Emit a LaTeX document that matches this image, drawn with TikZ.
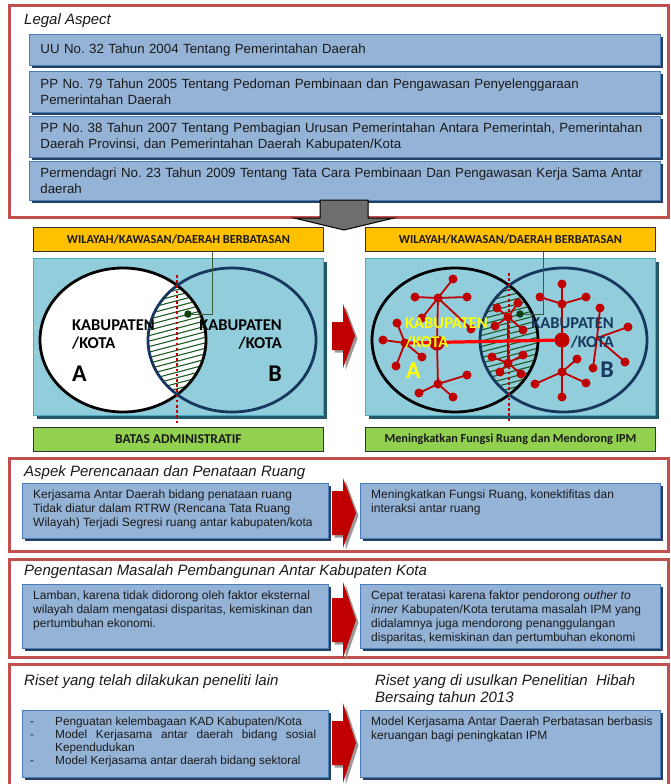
\documentclass[tikz,border=0pt]{standalone}
\usepackage{fontspec}
\setmainfont{Liberation Sans}
\newfontfamily\calibfont{Carlito}
\usetikzlibrary{shadows}

\definecolor{frameRed}{HTML}{C0504D}
\definecolor{boxFill}{HTML}{95B3D7}
\definecolor{boxLine}{HTML}{4A7EBB}
\definecolor{boxShadow}{HTML}{243F60}
\definecolor{panelFill}{HTML}{92CDDC}
\definecolor{panelLine}{HTML}{4BACC6}
\definecolor{panelShadow}{HTML}{215968}
\definecolor{labYellow}{HTML}{FFC000}
\definecolor{labGreen}{HTML}{92D050}
\definecolor{netRed}{HTML}{C00000}
\definecolor{linkRed}{HTML}{FF0000}
\definecolor{navy}{HTML}{17375E}
\definecolor{hatchGreen}{HTML}{1E5B23}
\definecolor{dotGreen}{HTML}{0F400F}
\definecolor{leaderGreen}{HTML}{3A5F3A}
\definecolor{arrowGray}{HTML}{6E6E6E}
\definecolor{arrowShade}{HTML}{9A9A9A}
\definecolor{inkText}{HTML}{1A1A1A}
\definecolor{kabYellow}{HTML}{FFFF00}

\tikzset{
  sectionframe/.style={draw=frameRed, line width=3pt},
  heading/.style={anchor=west, inner sep=0pt, font=\fontsize{15}{17}\selectfont\itshape, text=inkText},
  lawbox/.style={draw=boxLine, line width=0.9pt, fill=boxFill, anchor=north west,
    align=left, text width=609pt, inner xsep=11pt, inner ysep=0pt,
    font=\fontsize{13.3}{16}\selectfont, text=inkText,
    drop shadow={shadow xshift=2.5pt, shadow yshift=-2.5pt, fill=boxShadow, opacity=1}},
  casebox/.style={draw=boxLine, line width=0.9pt, fill=boxFill, anchor=north west, inner sep=0pt,
    drop shadow={shadow xshift=2.5pt, shadow yshift=-2.5pt, fill=boxShadow, opacity=1}},
  casetext/.style={anchor=north west, inner sep=0pt, align=left,
    font=\fontsize{12}{14}\selectfont, text=inkText},
  labelbar/.style={draw=black!80, line width=0.8pt, anchor=north west, minimum width=290pt,
    minimum height=24pt, inner sep=0pt, font=\calibfont\bfseries\fontsize{12.3}{14}\selectfont, text=inkText},
  panel/.style={draw=panelLine, line width=1pt, fill=panelFill, anchor=north west, minimum width=290pt,
    minimum height=157pt, inner sep=0pt,
    drop shadow={shadow xshift=3pt, shadow yshift=-3pt, fill=panelShadow, opacity=1}},
  kab/.style={inner sep=0pt, font=\calibfont\bfseries\fontsize{16.5}{18}\selectfont},
  bigletter/.style={inner sep=0pt, font=\calibfont\bfseries\fontsize{24}{26}\selectfont},
  hatch/.style={draw=hatchGreen, line width=1.1pt},
  cutline/.style={draw=netRed, line width=2.6pt, dash pattern=on 2.6pt off 2.6pt},
  gdot/.style={circle, fill=dotGreen, inner sep=0pt, minimum size=7.5pt},
  leader/.style={draw=leaderGreen, line width=1pt},
  leaf/.style={circle, fill=netRed, inner sep=0pt, minimum size=9pt},
  core/.style={circle, fill=netRed, inner sep=0pt, minimum size=15pt},
  spoke/.style={draw=netRed, line width=1.8pt},
  trunk/.style={draw=linkRed, line width=3.2pt},
}

% red block arrow pointing right, with a grey drop shade
% #1 shaft left, #2 head base, #3 tip x, #4 centre y, #5 half shaft height, #6 half head height
\newcommand\redpointer[6]{%
  \fill[arrowShade, shift={(2.5,2.5)}] (#1,{#4-#5}) -- (#2,{#4-#5}) -- (#2,{#4-#6}) -- (#3,#4)
     -- (#2,{#4+#6}) -- (#2,{#4+#5}) -- (#1,{#4+#5}) -- cycle;
  \fill[netRed] (#1,{#4-#5}) -- (#2,{#4-#5}) -- (#2,{#4-#6}) -- (#3,#4)
     -- (#2,{#4+#6}) -- (#2,{#4+#5}) -- (#1,{#4+#5}) -- cycle;}

\begin{document}
\frenchspacing
\hyphenpenalty=10000
\exhyphenpenalty=10000
\begin{tikzpicture}[x=1pt,y=-1pt]
\path[use as bounding box] (0,0) rectangle (671,784);
\clip (0,0) rectangle (671,784);
\fill[white] (0,0) rectangle (671,784);

%% ---------- Legal aspect ----------
\draw[sectionframe] (9.5,5.5) rectangle (668,217);
\node[heading] (legalHead) at (24,21) {Legal Aspect};
\node[lawbox, minimum height=31pt] (law1) at (29,34) {\mbox{UU No. 32 Tahun 2004 Tentang Pemerintahan Daerah}};
\node[lawbox, minimum height=41pt] (law2) at (29,71) {\mbox{PP No. 79 Tahun 2005 Tentang Pedoman Pembinaan dan Pengawasan Penyelenggaraan}\\\mbox{Pemerintahan Daerah}};
\node[lawbox, minimum height=41pt] (law3) at (29,116) {\mbox{PP No. 38 Tahun 2007 Tentang Pembagian Urusan Pemerintahan Antara Pemerintah, Pemerintahan}\\\mbox{Daerah Provinsi, dan Pemerintahan Daerah Kabupaten/Kota}};
\node[lawbox, minimum height=39pt] (law4) at (29,161) {\mbox{Permendagri No. 23 Tahun 2009 Tentang Tata Cara Pembinaan Dan Pengawasan Kerja Sama Antar}\\\mbox{daerah}};

% grey arrow down into the diagrams
\draw[fill=arrowGray, draw=black, line width=1pt, line join=miter]
  (320,200) -- (368,200) -- (368,218) -- (394,218) -- (344,230) -- (294,218) -- (320,218) -- cycle;

%% ---------- Bars and panels ----------
\node[labelbar, fill=labYellow] (areaL) at (33,227) {WILAYAH/KAWASAN/DAERAH BERBATASAN};
\node[labelbar, fill=labYellow] (areaR) at (365,227) {WILAYAH/KAWASAN/DAERAH BERBATASAN};
\node[panel] (panelL) at (33,258) {};
\node[panel] (panelR) at (365,258) {};
\node[labelbar, fill=labGreen, font=\calibfont\bfseries\fontsize{13.5}{15}\selectfont] (adminL) at (33,427) {BATAS ADMINISTRATIF};
\node[labelbar, fill=labGreen] (goalR) at (365,427) {Meningkatkan Fungsi Ruang dan Mendorong IPM};

%% ---------- Left Venn: two regencies ----------
\fill[white] (123,340) ellipse [x radius=83pt, y radius=72pt];
\begin{scope}
  \clip (123,340) ellipse [x radius=83pt, y radius=72pt];
  \clip (232,340) ellipse [x radius=84pt, y radius=72pt];
  \foreach \k in {0,...,36} \draw[hatch] (140,{250+5.5*\k}) -- (216,{230+5.5*\k});
\end{scope}
\draw[line width=2.8pt] (123,340) ellipse [x radius=83pt, y radius=72pt];
\draw[navy, line width=2.8pt] (232,340) ellipse [x radius=84pt, y radius=72pt];
\draw[cutline] (177,275) -- (177,425);
\node[gdot] (spotL) at (188,314) {};
\draw[leader] (spotL.east) -| (212,0 |- areaL.south);

\node[kab, anchor=west] (kabA1) at (72,325) {KABUPATEN};
\node[kab, anchor=west] (kabA2) at (72,343) {/KOTA};
\node[bigletter, anchor=west] (kabA3) at (72,374) {A};
\node[kab, anchor=east] (kabB1) at (282,325) {KABUPATEN};
\node[kab, anchor=east] (kabB2) at (282,343) {/KOTA};
\node[bigletter, anchor=east] (kabB3) at (282,374) {B};

\redpointer{332}{343}{355}{336}{14}{32}

%% ---------- Right Venn: linked growth centres ----------
\begin{scope}
  \clip (455,340) ellipse [x radius=83pt, y radius=72pt];
  \clip (563.5,340) ellipse [x radius=83.5pt, y radius=72pt];
  \foreach \k in {0,...,36} \draw[hatch] (472,{250+5.5*\k}) -- (548,{230+5.5*\k});
\end{scope}
\draw[line width=2.8pt] (455,340) ellipse [x radius=83pt, y radius=72pt];
\draw[navy, line width=2.8pt] (563.5,340) ellipse [x radius=83.5pt, y radius=72pt];
\draw[cutline] (509,273) -- (509,423);

% network positions
\coordinate (aT) at (438,298);
\coordinate (aT1) at (453,279); \coordinate (aT2) at (415,297); \coordinate (aT3) at (467,297);
\coordinate (aT4) at (422,318); \coordinate (aT5) at (471,329);
\coordinate (aC) at (437,343);
\coordinate (aL) at (405,343);
\coordinate (aL1) at (397,323); \coordinate (aL2) at (383,340); \coordinate (aL3) at (396,366); \coordinate (aL4) at (422,357);
\coordinate (aB) at (438,384);
\coordinate (aB1) at (419,393); \coordinate (aB2) at (453,397); \coordinate (aB3) at (467,375);
\coordinate (mT) at (508,317);
\coordinate (mT1) at (497,308); \coordinate (mT2) at (518,303); \coordinate (mT3) at (495,326); \coordinate (mT4) at (523,330);
\coordinate (mB) at (508,363);
\coordinate (mB1) at (492,357); \coordinate (mB2) at (523,355); \coordinate (mB3) at (500,372); \coordinate (mB4) at (521,374);
\coordinate (bT) at (562,304);
\coordinate (bT1) at (562,284); \coordinate (bT2) at (540,297); \coordinate (bT3) at (586,297);
\coordinate (bC) at (562,340);
\coordinate (bB) at (562,372);
\coordinate (bB1) at (535,384); \coordinate (bB2) at (586,383); \coordinate (bB3) at (577,359); \coordinate (bB4) at (562,397);
\coordinate (bR) at (597,338);
\coordinate (bR1) at (600,308); \coordinate (bR2) at (628,327); \coordinate (bR3) at (625,362); \coordinate (bR4) at (593,368);

\foreach \h/\l in {aT/aT1,aT/aT2,aT/aT3,aT/aT4,aT/aT5,aT/aC,aC/aB,
                   aL/aL1,aL/aL2,aL/aL3,aL/aL4,aB/aB1,aB/aB2,aB/aB3,
                   mT/mT1,mT/mT2,mT/mT3,mT/mT4,mT/mB,mB/mB1,mB/mB2,mB/mB3,mB/mB4,
                   bT/bT1,bT/bT2,bT/bT3,bT/bC,bC/bB,bB/bB1,bB/bB2,bB/bB3,bB/bB4,
                   bR/bR1,bR/bR2,bR/bR3,bR/bR4}
  \draw[spoke] (\h) -- (\l);
\draw[trunk] (aL) -- (bC);
\foreach \n in {aT,aT1,aT2,aT3,aT4,aT5,aL,aL1,aL2,aL3,aL4,aB,aB1,aB2,aB3,
                mT,mT1,mT2,mT3,mT4,mB,mB1,mB2,mB3,mB4,
                bT,bT1,bT2,bT3,bB,bB1,bB2,bB3,bB4,bR1,bR2,bR3,bR4}
  \node[leaf] (\n-dot) at (\n) {};
\node[core] (aC-dot) at (aC) {};
\node[core] (bC-dot) at (bC) {};

\node[gdot] (spotR) at (520,314) {};
\draw[leader] (spotR.east) -| (543,0 |- areaR.south);

\node[kab, anchor=west, text=kabYellow] (kabRA1) at (405,323) {KABUPATEN};
\node[kab, anchor=west, text=kabYellow] (kabRA2) at (405,342) {/KOTA};
\node[bigletter, anchor=west, text=kabYellow] (kabRA3) at (406,371) {A};
\node[kab, anchor=east, text=navy] (kabRB1) at (614,323) {KABUPATEN};
\node[kab, anchor=east, text=navy] (kabRB2) at (614,342) {/KOTA};
\node[bigletter, anchor=east, text=navy] (kabRB3) at (614,370) {B};

%% ---------- Spatial planning ----------
\draw[sectionframe] (9.5,458) rectangle (668,551);
\node[heading] (planHead) at (24,473) {Aspek Perencanaan dan Penataan Ruang};
\node[casebox, minimum width=306pt, minimum height=55pt] (planL) at (22,483) {};
\node[casetext] (planLtext) at ([shift={(11,6.5)}]planL.north west)
  {Kerjasama Antar Daerah bidang penataan ruang\\Tidak diatur dalam RTRW (Rencana Tata Ruang\\Wilayah) Terjadi Segresi ruang antar kabupaten/kota};
\node[casebox, minimum width=300pt, minimum height=55pt] (planR) at (360,483) {};
\node[casetext] (planRtext) at ([shift={(11,6.5)}]planR.north west)
  {Meningkatkan Fungsi Ruang, konektifitas dan\\interaksi antar ruang};
\redpointer{332}{343}{356}{513}{22}{35}

%% ---------- Development problems ----------
\draw[sectionframe] (9.5,559.5) rectangle (668,657);
\node[heading] (devHead) at (24,572) {Pengentasan Masalah Pembangunan Antar Kabupaten Kota};
\node[casebox, minimum width=306pt, minimum height=64pt] (devL) at (22,584) {};
\node[casetext] (devLtext) at ([shift={(11,6.5)}]devL.north west)
  {Lamban, karena tidak didorong oleh faktor eksternal\\wilayah dalam mengatasi disparitas, kemiskinan dan\\pertumbuhan ekonomi.};
\node[casebox, minimum width=300pt, minimum height=64pt] (devR) at (360,584) {};
\node[casetext] (devRtext) at ([shift={(11,6.5)}]devR.north west)
  {Cepat teratasi karena faktor pendorong \textit{outher to}\\\textit{inner} Kabupaten/Kota terutama masalah IPM yang\\didalamnya juga mendorong penanggulangan\\disparitas, kemiskinan dan pertumbuhan ekonomi};
\redpointer{332}{343}{356}{620}{22}{38}

%% ---------- Research ----------
\draw[sectionframe] (9.5,664) rectangle (668,800);
\node[heading] (pastHead) at (24,682) {Riset yang telah dilakukan peneliti lain};
\node[heading, align=left, font=\fontsize{15}{16.5}\selectfont\itshape] (newHead) at (375,690)
  {Riset yang di usulkan Penelitian\ \ Hibah\\Bersaing tahun 2013};
\node[casebox, minimum width=306pt, minimum height=67pt] (pastL) at (22,710) {};
\node[casetext, font=\fontsize{11.8}{12.8}\selectfont] (pastLtext) at ([shift={(6,7)}]pastL.north west)
  {\makebox[27pt][l]{\hspace{2pt}-}Penguatan kelembagaan KAD Kabupaten/Kota\\
   \makebox[27pt][l]{\hspace{2pt}-}\makebox[261pt][s]{Model Kerjasama antar daerah bidang sosial}\\
   \makebox[27pt][l]{}Kependudukan\\
   \makebox[27pt][l]{\hspace{2pt}-}Model Kerjasama antar daerah bidang sektoral};
\node[casebox, minimum width=300pt, minimum height=67pt] (newR) at (360,710) {};
\node[casetext] (newRtext) at ([shift={(11,6.5)}]newR.north west)
  {Model Kerjasama Antar Daerah Perbatasan berbasis\\keruangan bagi peningkatan IPM};
\redpointer{332}{343}{356}{743}{22}{40}

\end{tikzpicture}
\end{document}
